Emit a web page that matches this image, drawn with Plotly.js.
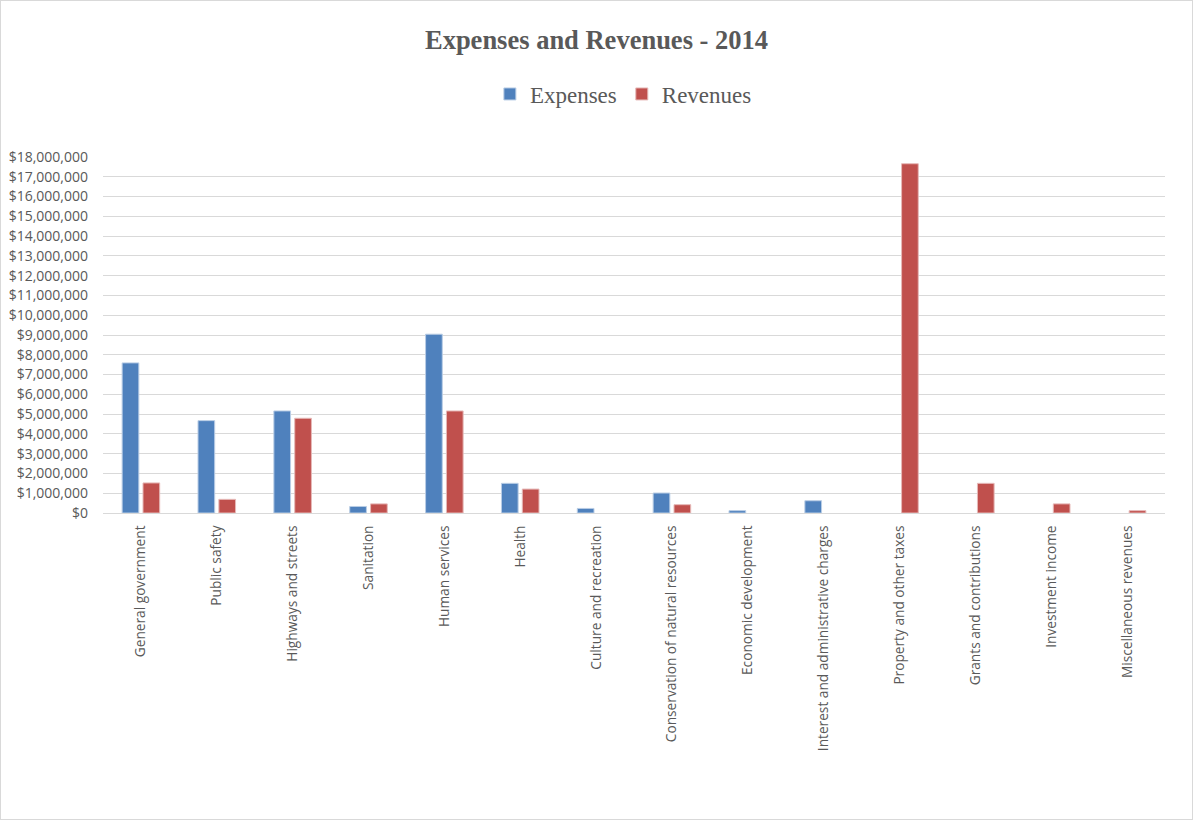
<!DOCTYPE html>
<html>
<head>
<meta charset="utf-8">
<script src="https://cdn.plot.ly/plotly-3.0.1.min.js"></script>
<style>
html,body{margin:0;padding:0;background:#fff;}
#chart{width:1193px;height:820px;box-sizing:border-box;border:1px solid #d9d9d9;}
</style>
</head>
<body>
<div id="chart"></div>
<script>
const categories = [
  "General government","Public safety","Highways and streets","Sanitation",
  "Human services","Health","Culture and recreation","Conservation of natural resources",
  "Economic development","Interest and administrative charges","Property and other taxes",
  "Grants and contributions","Investment income","Miscellaneous revenues"
];
const expenses = [7590000,4670000,5160000,330000,9040000,1500000,230000,1010000,120000,620000,null,null,null,null];
const revenues = [1520000,690000,4790000,460000,5160000,1210000,null,420000,null,null,17660000,1500000,460000,120000];
const seriesNames = ["Expenses","Revenues"];
const chartTitle = "Expenses and Revenues - 2014";

const traces = [
  {type:'bar', name:seriesNames[0], x:categories, y:expenses,
   marker:{color:'#4f81bd', line:{color:'#b9cde5', width:1}}, hoverinfo:'x+y'},
  {type:'bar', name:seriesNames[1], x:categories, y:revenues,
   marker:{color:'#c0504d', line:{color:'#e6b9b8', width:1}}, hoverinfo:'x+y'}
];

const layout = {
  width:1191, height:818,
  paper_bgcolor:'#ffffff', plot_bgcolor:'#ffffff',
  margin:{l:102, r:27, t:156, b:306, pad:0},
  title:{text:'<b>'+chartTitle+'</b>', x:0.5, xanchor:'center', y:1-39/818, yanchor:'middle', yref:'container',
         font:{family:'"Liberation Serif","Times New Roman",serif', size:26.5, color:'#595959'}},
  showlegend:true,
  legend:{orientation:'h', x:0.49, xanchor:'center', y:1+63/356, yanchor:'middle',
          font:{family:'"Liberation Serif","Times New Roman",serif', size:23, color:'#595959'},
          itemwidth:30, traceorder:'normal'},
  barmode:'group', bargap:0.45, bargroupgap:0.2,
  xaxis:{type:'category', tickangle:-90, showgrid:false, showline:true, linecolor:'#d9d9d9', linewidth:1,
         ticks:'', ticklabelstandoff:6,
         tickfont:{family:'"Open Sans",sans-serif', size:13.7, color:'#595959'}},
  yaxis:{range:[0,18000000], dtick:1000000, tickprefix:'$', tickformat:',.0f',
         showgrid:true, gridcolor:'#d9d9d9', gridwidth:1, zeroline:true, zerolinecolor:'#d9d9d9', zerolinewidth:1,
         showline:false, ticks:'', ticklabelstandoff:14,
         tickfont:{family:'"Open Sans",sans-serif', size:14, color:'#595959'}}
};

Plotly.newPlot('chart', traces, layout, {displayModeBar:false, staticPlot:true});
</script>
</body>
</html>
